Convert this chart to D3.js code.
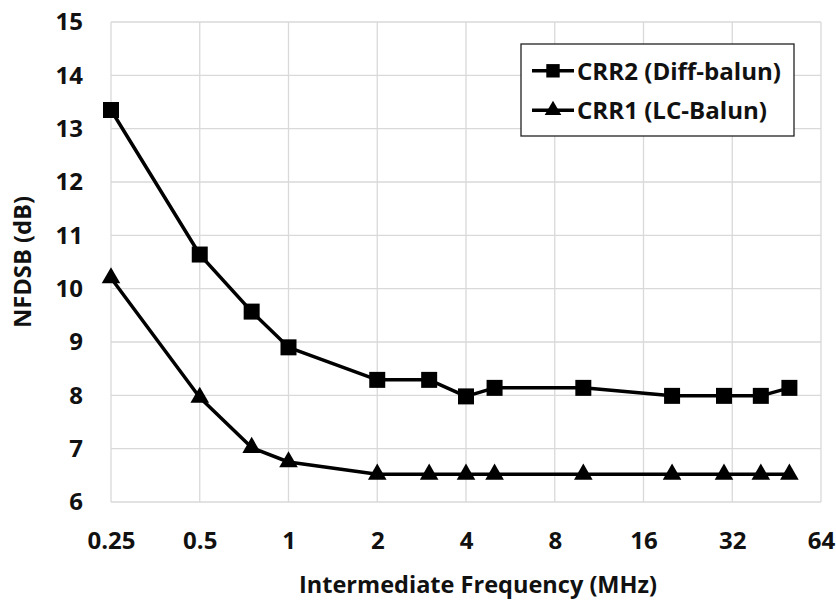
<!DOCTYPE html>
<html>
<head>
<meta charset="utf-8">
<script src="https://cdn.jsdelivr.net/npm/d3@7/dist/d3.min.js"></script>
<style>
  html, body { margin: 0; padding: 0; background: #fff; }
  svg text { font-family: "Open Sans", "DejaVu Sans", sans-serif; font-weight: 700; fill: #111; }
</style>
</head>
<body>
<svg id="chart" width="836" height="602"></svg>
<script>
// Intermediate frequencies (MHz)
const freqs = [0.25, 0.5, 0.75, 1, 2, 3, 4, 5, 10, 20, 30, 40, 50];
// NFDSB (dB) per receiver
const crr2 = [13.35, 10.64, 9.57, 8.9, 8.29, 8.29, 7.98, 8.14, 8.14, 7.99, 7.99, 7.99, 8.14];
const crr1 = [10.2, 7.96, 7.02, 6.75, 6.52, 6.52, 6.52, 6.52, 6.52, 6.52, 6.52, 6.52, 6.52];
const seriesNames = ["CRR2 (Diff-balun)", "CRR1 (LC-Balun)"];
const xTicks = [0.25, 0.5, 1, 2, 4, 8, 16, 32, 64];
const yTicks = [6, 7, 8, 9, 10, 11, 12, 13, 14, 15];

const svg = d3.select("#chart");
const m = { left: 111, right: 15, top: 22, bottom: 100 };
const W = 836, H = 602;
const FONT = 24;

const x = d3.scaleLog().base(2).domain([0.25, 64]).range([m.left, W - m.right]);
const y = d3.scaleLinear().domain([6, 15]).range([H - m.bottom, m.top]);

// Grid (the outer lines also act as the plot frame)
const grid = svg.append("g");
grid.selectAll("line.h").data(yTicks).join("line")
  .attr("x1", x(0.25)).attr("x2", x(64))
  .attr("y1", d => y(d)).attr("y2", d => y(d))
  .attr("stroke", "#d9d9d9").attr("stroke-width", 1.3);
grid.selectAll("line.v").data(xTicks).join("line")
  .attr("x1", d => x(d)).attr("x2", d => x(d))
  .attr("y1", y(6)).attr("y2", y(15))
  .attr("stroke", "#d9d9d9").attr("stroke-width", 1.3);

// Axis tick labels
const xAxis = svg.append("g")
  .attr("transform", `translate(0,${y(6)})`)
  .call(d3.axisBottom(x).tickValues(xTicks).tickFormat(d => String(d)).tickSize(0).tickPadding(30));
const yAxis = svg.append("g")
  .attr("transform", `translate(${x(0.25)},0)`)
  .call(d3.axisLeft(y).tickValues(yTicks).tickFormat(d3.format("d")).tickSize(0).tickPadding(28));
[xAxis, yAxis].forEach(a => {
  a.select(".domain").remove();
  a.attr("font-size", null).attr("font-family", null);
  a.selectAll("text").style("font-size", FONT + "px").attr("fill", "#111");
});

// Axis titles
svg.append("text")
  .attr("x", 478).attr("y", 593)
  .attr("text-anchor", "middle").style("font-size", FONT + "px")
  .attr("textLength", 358).attr("lengthAdjust", "spacingAndGlyphs")
  .text("Intermediate Frequency (MHz)");
svg.append("text")
  .attr("transform", `translate(31,${(y(6) + y(15)) / 2}) rotate(-90)`)
  .attr("text-anchor", "middle").style("font-size", FONT + "px")
  .attr("textLength", 132).attr("lengthAdjust", "spacingAndGlyphs")
  .text("NFDSB (dB)");

// Series lines and markers
const line = d3.line().x(d => x(d[0])).y(d => y(d[1]));
const s2 = freqs.map((f, i) => [f, crr2[i]]);
const s1 = freqs.map((f, i) => [f, crr1[i]]);

const sq = d3.symbol().type(d3.symbolSquare).size(256);
const tri = d3.symbol().type(d3.symbolTriangle).size(150);

[[s2, sq], [s1, tri]].forEach(([data, sym]) => {
  svg.append("path").datum(data)
    .attr("d", line).attr("fill", "none")
    .attr("stroke", "#000").attr("stroke-width", 3.5).attr("stroke-linejoin", "round");
  svg.append("g").selectAll("path").data(data).join("path")
    .attr("transform", d => `translate(${x(d[0])},${y(d[1])})`)
    .attr("d", sym).attr("fill", "#000");
});

// Legend
const lg = svg.append("g");
lg.append("rect")
  .attr("x", 521).attr("y", 44).attr("width", 273).attr("height", 92)
  .attr("fill", "#fff").attr("stroke", "#222").attr("stroke-width", 1.3);
const legendSyms = [d3.symbol().type(d3.symbolSquare).size(180), d3.symbol().type(d3.symbolTriangle).size(120)];
const legendRows = [79.5, 119];
const legendWidths = [204, 190];
seriesNames.forEach((name, i) => {
  const base = legendRows[i];
  const cy = base - 8.7;
  lg.append("line").attr("x1", 532).attr("x2", 574).attr("y1", cy).attr("y2", cy)
    .attr("stroke", "#000").attr("stroke-width", 3.5);
  lg.append("path").attr("transform", `translate(553,${cy})`).attr("d", legendSyms[i]).attr("fill", "#000");
  lg.append("text").attr("x", 577).attr("y", base)
    .style("font-size", FONT + "px")
    .attr("textLength", legendWidths[i]).attr("lengthAdjust", "spacingAndGlyphs")
    .text(name);
});
</script>
</body>
</html>
